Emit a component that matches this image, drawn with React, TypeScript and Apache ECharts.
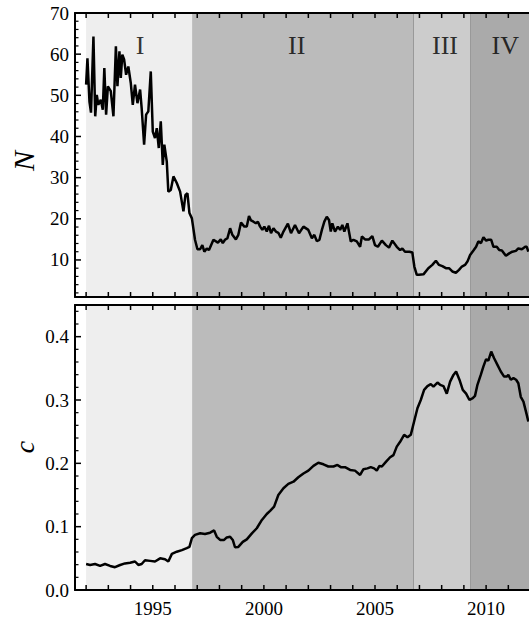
import React, { useEffect, useRef } from "react";
import * as echarts from "echarts";

// N (top panel): [year, N]
const nSeries: [number, number][] = [
  [1992.0, 52.6], [1992.06, 59], [1992.15, 48.5], [1992.22, 45.8], [1992.33, 64.3], [1992.41, 44.9],
  [1992.48, 50.1], [1992.55, 47.7], [1992.66, 48.9], [1992.75, 46.5], [1992.82, 56.6], [1992.9, 45.3],
  [1992.98, 52.2], [1993.11, 51], [1993.23, 44.9], [1993.34, 61.9], [1993.41, 52.2], [1993.5, 60.7],
  [1993.56, 54.2], [1993.63, 59.9], [1993.71, 58.7], [1993.8, 55], [1993.9, 57], [1994.01, 53],
  [1994.1, 47.7], [1994.2, 52.6], [1994.31, 48.1], [1994.43, 51.4], [1994.5, 46.9], [1994.61, 38],
  [1994.7, 45.3], [1994.8, 46.1], [1994.91, 55.8], [1995.0, 41.2], [1995.1, 39.6], [1995.18, 42],
  [1995.27, 37.2], [1995.36, 43.7], [1995.45, 33.1], [1995.52, 38], [1995.63, 33.9], [1995.7, 26.6],
  [1995.81, 27], [1995.93, 30.3], [1996.08, 28.7], [1996.23, 26.6], [1996.38, 21.8], [1996.47, 25.8],
  [1996.56, 26.2], [1996.65, 21.4], [1996.76, 20.1], [1996.9, 14.9], [1997.01, 12.6], [1997.13, 12.6],
  [1997.23, 13.6], [1997.32, 12.0], [1997.43, 12.8], [1997.53, 12.4], [1997.73, 14.9], [1997.93, 14.2],
  [1998.06, 15.0], [1998.15, 14.1], [1998.25, 14.9], [1998.36, 15.3], [1998.48, 17.7], [1998.58, 16.1],
  [1998.74, 15.0], [1998.85, 16.1], [1998.97, 19.1], [1999.12, 18.1], [1999.23, 18.1], [1999.33, 20.7],
  [1999.42, 19.6], [1999.53, 19.3], [1999.64, 18.9], [1999.73, 19.3], [1999.83, 18.1], [1999.93, 17.3],
  [2000.02, 18.1], [2000.13, 16.9], [2000.23, 18.3], [2000.32, 16.5], [2000.43, 17.7], [2000.54, 16.9],
  [2000.65, 16.6], [2000.76, 15.4], [2000.88, 16.9], [2001.08, 18.8], [2001.22, 16.5], [2001.4, 18.5],
  [2001.58, 16.5], [2001.78, 18.1], [2002.0, 17.3], [2002.16, 15.3], [2002.27, 16.1], [2002.38, 14.6],
  [2002.5, 14.9], [2002.61, 17.3], [2002.72, 19.3], [2002.83, 20.5], [2002.93, 19.7], [2003.01, 16.9],
  [2003.08, 18.9], [2003.2, 16.9], [2003.33, 18.1], [2003.43, 17.3], [2003.53, 18.5], [2003.62, 16.9],
  [2003.76, 18.9], [2003.91, 14.5], [2004.03, 14.9], [2004.18, 14.5], [2004.33, 13.2], [2004.41, 15.7],
  [2004.55, 15.0], [2004.73, 15.0], [2004.88, 15.8], [2005.0, 13.6], [2005.13, 13.2], [2005.31, 14.7],
  [2005.49, 13.6], [2005.63, 13.0], [2005.78, 14.7], [2005.98, 13.2], [2006.13, 12.4], [2006.23, 12.8],
  [2006.35, 12.0], [2006.55, 12.0], [2006.68, 11.8], [2006.77, 8.4], [2006.88, 6.4], [2006.98, 6.4],
  [2007.18, 6.5], [2007.4, 8.0], [2007.58, 8.8], [2007.74, 9.8], [2007.88, 8.8], [2008.03, 8.5],
  [2008.19, 8.0], [2008.33, 8.0], [2008.48, 7.2], [2008.64, 6.9], [2008.78, 7.6], [2008.91, 8.4],
  [2009.05, 8.8], [2009.16, 9.6], [2009.28, 11.2], [2009.43, 12.3], [2009.55, 13.2], [2009.65, 14.5],
  [2009.77, 14.1], [2009.88, 15.5], [2010.0, 14.7], [2010.1, 14.9], [2010.23, 14.9], [2010.33, 13.2],
  [2010.48, 13.2], [2010.59, 12.4], [2010.71, 12.3], [2010.89, 11.0], [2011.04, 11.6], [2011.18, 12.0],
  [2011.34, 12.2], [2011.45, 12.8], [2011.61, 12.6], [2011.76, 13.2], [2011.83, 13.2], [2011.9, 12.0],
];

// c (bottom panel): [year, c]
const cSeries: [number, number][] = [
  [1992.0, 0.041], [1992.18, 0.0395], [1992.4, 0.041], [1992.63, 0.038], [1992.85, 0.041], [1993.08, 0.038],
  [1993.3, 0.036], [1993.53, 0.0395], [1993.75, 0.042], [1993.98, 0.043], [1994.2, 0.045], [1994.35, 0.0395],
  [1994.5, 0.041], [1994.65, 0.047], [1994.88, 0.046], [1995.1, 0.045], [1995.33, 0.05], [1995.55, 0.0485],
  [1995.7, 0.045], [1995.86, 0.057], [1996.08, 0.0605], [1996.31, 0.063], [1996.53, 0.066], [1996.65, 0.068],
  [1996.76, 0.082], [1996.9, 0.087], [1997.13, 0.0895], [1997.35, 0.0885], [1997.58, 0.0905], [1997.76, 0.094],
  [1997.88, 0.084], [1998.03, 0.079], [1998.21, 0.079], [1998.33, 0.083], [1998.48, 0.084], [1998.6, 0.079],
  [1998.7, 0.0675], [1998.85, 0.068], [1999.05, 0.076], [1999.23, 0.08], [1999.46, 0.0895], [1999.68, 0.0975],
  [1999.91, 0.1106], [2000.13, 0.12], [2000.28, 0.125], [2000.46, 0.1316], [2000.65, 0.15], [2000.88, 0.1607],
  [2001.1, 0.1675], [2001.33, 0.171], [2001.55, 0.178], [2001.78, 0.184], [2002.0, 0.1885], [2002.23, 0.196],
  [2002.45, 0.201], [2002.68, 0.1985], [2002.9, 0.195], [2003.13, 0.195], [2003.31, 0.1975], [2003.46, 0.194],
  [2003.65, 0.194], [2003.88, 0.1896], [2004.1, 0.1885], [2004.33, 0.1817], [2004.48, 0.1907], [2004.66, 0.192],
  [2004.81, 0.194], [2004.96, 0.192], [2005.08, 0.1885], [2005.2, 0.196], [2005.31, 0.195], [2005.5, 0.2027],
  [2005.68, 0.2096], [2005.83, 0.213], [2005.98, 0.2264], [2006.13, 0.234], [2006.31, 0.245], [2006.46, 0.241],
  [2006.61, 0.245], [2006.76, 0.266], [2006.91, 0.287], [2007.06, 0.3], [2007.21, 0.316], [2007.36, 0.322],
  [2007.51, 0.325], [2007.63, 0.321], [2007.81, 0.3275], [2007.93, 0.324], [2008.08, 0.322], [2008.23, 0.31],
  [2008.38, 0.329], [2008.53, 0.3396], [2008.65, 0.345], [2008.8, 0.332], [2008.95, 0.316], [2009.1, 0.31],
  [2009.25, 0.3], [2009.4, 0.303], [2009.5, 0.3065], [2009.61, 0.324], [2009.76, 0.3396], [2009.88, 0.353],
  [2010.0, 0.3645], [2010.1, 0.362], [2010.23, 0.3765], [2010.36, 0.366], [2010.51, 0.3555], [2010.66, 0.345],
  [2010.81, 0.337], [2010.93, 0.337], [2011.0, 0.3396], [2011.11, 0.332], [2011.23, 0.3345], [2011.35, 0.332],
  [2011.45, 0.3265], [2011.56, 0.305], [2011.68, 0.2975], [2011.83, 0.2765], [2011.9, 0.266],
];

const regionNames = ["I", "II", "III", "IV"];
const regionStarts = [1992.0, 1996.77, 2006.73, 2009.29];
const regionEnds = [1996.77, 2006.73, 2009.29, 2012.65];
const regionLabelYears = [1994.43, 2001.48, 2008.15, 2010.86];
const regionLabelLevel = 62.2;
const boundaryYears = [2006.73, 2009.29];

// tick positions
const yearTicks = [1992, 1993, 1994, 1995, 1996, 1997, 1998, 1999, 2000, 2001, 2002,
  2003, 2004, 2005, 2006, 2007, 2008, 2009, 2010, 2011, 2012];
const nMajorTicks = [10, 20, 30, 40, 50, 60];
const nMinorTicks = [2, 4, 6, 8, 12, 14, 16, 18, 22, 24, 26, 28, 32, 34, 36, 38, 42, 44, 46, 48,
  52, 54, 56, 58, 62, 64, 66, 68];
const cMajorTicks = [0.1, 0.2, 0.3, 0.4];
const cMinorTicks = [0.02, 0.04, 0.06, 0.08, 0.12, 0.14, 0.16, 0.18, 0.22, 0.24, 0.26, 0.28,
  0.32, 0.34, 0.36, 0.38, 0.42, 0.44];

const xMin = 1991.5;
const xMax = 2012.65;
const nMin = 1;
const nMax = 70;
const cMin = 0;
const cMax = 0.45;

const regionColors = ["#eeeeee", "#bbbbbb", "#cccccc", "#aaaaaa"];
const FONT = "'Liberation Serif', 'Times New Roman', serif";
const labelStyle = { color: "#000", fontFamily: FONT, fontSize: 19 };

function frameX(gridIndex: number, position: "top" | "bottom", labels: boolean) {
  return {
    type: "value",
    gridIndex,
    position,
    min: xMin,
    max: xMax,
    minInterval: 5,
    maxInterval: 5,
    z: 10,
    axisLine: { show: true, onZero: false, lineStyle: { color: "#000", width: 2 } },
    axisTick: { show: false },
    splitLine: { show: false },
    axisLabel: {
      ...labelStyle,
      show: labels,
      margin: 9,
      formatter: (v: number) => (Math.abs(v % 5) < 1e-6 ? String(Math.round(v)) : ""),
    },
  };
}

function frameY(gridIndex: number, min: number, max: number, step: number, fmt: (v: number) => string) {
  return {
    type: "value",
    gridIndex,
    position: "left",
    min,
    max,
    minInterval: step,
    maxInterval: step,
    z: 10,
    axisLine: { show: true, onZero: false, lineStyle: { color: "#000", width: 2 } },
    axisTick: { show: false },
    splitLine: { show: false },
    axisLabel: { ...labelStyle, show: true, margin: 6, formatter: fmt },
  };
}

function mkArea() {
  return {
    silent: true,
    data: regionNames.map((_, i) => [
      { xAxis: regionStarts[i], itemStyle: { color: regionColors[i] } },
      { xAxis: regionEnds[i] },
    ]),
  };
}

function mkLine() {
  return {
    silent: true,
    symbol: ["none", "none"],
    label: { show: false },
    lineStyle: { color: "#999999", width: 1, type: "solid" },
    data: boundaryYears.map((y) => ({ xAxis: y })),
  };
}

const axisTitles = [
  { type: "text", x: 23, y: 161, rotation: Math.PI / 2,
    style: { text: "N", fontFamily: FONT, fontStyle: "italic", fontSize: 30, fill: "#000",
      align: "center", verticalAlign: "middle", textAlign: "center", textVerticalAlign: "middle" } },
  { type: "text", x: 24, y: 447, rotation: Math.PI / 2,
    style: { text: "c", fontFamily: FONT, fontStyle: "italic", fontSize: 28, fill: "#000",
      align: "center", verticalAlign: "middle", textAlign: "center", textVerticalAlign: "middle" } },
];

export default function App() {
  const ref = useRef<HTMLDivElement>(null);
  useEffect(() => {
    document.body.style.margin = "0";
    if (!ref.current) return;
    const chart = echarts.init(ref.current, undefined, { renderer: "svg" });
    const option: any = {
      animation: false,
      backgroundColor: "#ffffff",
      grid: [
        { left: 75, top: 13, width: 470, height: 284, outerBoundsMode: "none", containLabel: false },
        { left: 75, top: 305, width: 470, height: 285, outerBoundsMode: "none", containLabel: false },
      ],
      xAxis: [frameX(0, "bottom", false), frameX(0, "top", false), frameX(1, "bottom", true), frameX(1, "top", false)],
      yAxis: [
        frameY(0, nMin, nMax, 10, (v: number) => (v >= 10 && Math.abs(v % 10) < 1e-6 ? String(v) : "")),
        frameY(1, cMin, cMax, 0.1, (v: number) => (v > 0.44 ? "" : Number(v).toFixed(1))),
      ],
      series: [
        {
          type: "line",
          xAxisIndex: 0,
          yAxisIndex: 0,
          data: nSeries,
          showSymbol: false,
          symbol: "none",
          lineStyle: { color: "#000", width: 2.5 },
          z: 5,
          markArea: mkArea(),
          markLine: mkLine(),
        },
        {
          type: "line",
          xAxisIndex: 2,
          yAxisIndex: 1,
          data: cSeries,
          showSymbol: false,
          symbol: "none",
          lineStyle: { color: "#000", width: 2.5 },
          z: 5,
          markArea: mkArea(),
          markLine: mkLine(),
        },
        {
          type: "scatter",
          xAxisIndex: 0,
          yAxisIndex: 0,
          symbolSize: 1,
          itemStyle: { color: "rgba(0,0,0,0)" },
          silent: true,
          z: 6,
          data: regionNames.map((n, i) => ({ name: n, value: [regionLabelYears[i], regionLabelLevel] })),
          label: {
            show: true,
            position: "inside",
            formatter: "{b}",
            color: "#000",
            fontFamily: FONT,
            fontSize: 26,
          },
        },
      ],
      graphic: { elements: axisTitles },
    };
    chart.setOption(option);

    // inward ticks, placed through the chart's own scales
    const ticks: any[] = [];
    const XT = 5, YM = 6, Ym = 3.5;
    const seg = (x1: number, y1: number, x2: number, y2: number, w: number) => ({
      type: "line",
      silent: true,
      z: 100,
      shape: { x1, y1, x2, y2 },
      style: { stroke: "#000", lineWidth: w },
    });
    const panels = [
      { finder: { xAxisIndex: 0, yAxisIndex: 0 }, min: nMin, max: nMax, major: nMajorTicks, minor: nMinorTicks },
      { finder: { xAxisIndex: 2, yAxisIndex: 1 }, min: cMin, max: cMax, major: cMajorTicks, minor: cMinorTicks },
    ];
    try {
      panels.forEach((p) => {
        yearTicks.forEach((yr) => {
          const b = chart.convertToPixel(p.finder as any, [yr, p.min]) as number[];
          const t = chart.convertToPixel(p.finder as any, [yr, p.max]) as number[];
          if (b) ticks.push(seg(b[0], b[1], b[0], b[1] - XT, 1.5));
          if (t) ticks.push(seg(t[0], t[1], t[0], t[1] + XT, 1.5));
        });
        p.major.forEach((v) => {
          const a = chart.convertToPixel(p.finder as any, [xMin, v]) as number[];
          if (a) ticks.push(seg(a[0], a[1], a[0] + YM, a[1], 1.5));
        });
        p.minor.forEach((v) => {
          const a = chart.convertToPixel(p.finder as any, [xMin, v]) as number[];
          if (a) ticks.push(seg(a[0], a[1], a[0] + Ym, a[1], 1.2));
        });
      });
      chart.setOption({ graphic: { elements: [...axisTitles, ...ticks] } } as any);
    } catch (e) {
      // keep chart without extra ticks
    }
    return () => chart.dispose();
  }, []);
  return <div ref={ref} style={{ width: 529, height: 620 }} />;
}
